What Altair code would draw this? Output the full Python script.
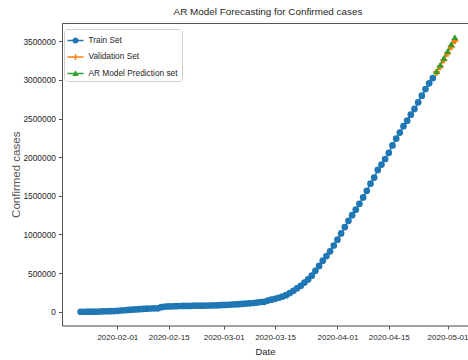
import altair as alt
import pandas as pd

series_names = ["Train Set", "Validation Set", "AR Model Prediction set"]
series_colors = ["#1f77b4", "#ff7f0e", "#2ca02c"]

train_dates = pd.date_range("2020-01-22", "2020-04-27", freq="D").strftime("%Y-%m-%d").tolist()
train_values = [
    555, 654, 941, 1434, 2118, 2927, 5578, 6166, 8234, 9927,
    12038, 16787, 19881, 23892, 27635, 30794, 34391, 37120, 40150, 42762,
    44802, 45221, 60368, 66885, 69030, 71224, 73258, 75136, 75639, 76197,
    76819, 78572, 78958, 79561, 80406, 81388, 82746, 84112, 86011,
    88369, 90306, 92840, 95120, 97886, 101801, 105847, 109821, 113590, 118620,
    125875, 128352, 145205, 156101, 167454, 181574, 197102, 214821, 242570, 272208,
    304507, 337020, 378287, 418041, 467653, 529591, 593291, 660693, 720140, 782389,
    857487,
    932605, 1013466, 1095917, 1176060, 1249754, 1321481, 1396476, 1479804, 1565278, 1657526,
    1735650, 1834721, 1904838, 1976191, 2056054, 2152437, 2240190, 2317759, 2401378, 2472259,
    2549123, 2624085, 2708885, 2795735, 2881140, 2955033, 3023722,
]

valid_dates = ["2020-04-28", "2020-04-29", "2020-04-30", "2020-05-01", "2020-05-02", "2020-05-03"]
valid_values = [3097229, 3172287, 3256910, 3343777, 3427343, 3506729]
pred_values = [3110000, 3195000, 3283000, 3372000, 3462000, 3552000]

y_ticks = [0, 500000, 1000000, 1500000, 2000000, 2500000, 3000000, 3500000]
x_ticks = ["2020-02-01", "2020-02-15", "2020-03-01", "2020-03-15", "2020-04-01", "2020-04-15", "2020-05-01"]

df = pd.concat([
    pd.DataFrame({"date": train_dates, "cases": train_values, "series": series_names[0]}),
    pd.DataFrame({"date": valid_dates, "cases": valid_values, "series": series_names[1]}),
    pd.DataFrame({"date": valid_dates, "cases": pred_values, "series": series_names[2]}),
], ignore_index=True)

FONT = "Liberation Sans, sans-serif"
TXT = "#262626"


def dt(s, h=0):
    y, m, d = (int(p) for p in s.split("-"))
    return alt.DateTime(year=y, month=m, date=d, hours=h, utc=True)


x_scale = alt.Scale(type="utc", domain=[dt("2020-01-16", 22), dt("2020-05-06", 14)])
y_scale = alt.Scale(domain=[-177300, 3735600], nice=False, zero=False)
color_scale = alt.Scale(domain=series_names, range=series_colors)

x_axis = alt.Axis(values=[dt(s) for s in x_ticks],
                  labelExpr="utcFormat(datum.value, '%Y-%m-%d')",
                  title="Date", grid=False, labelFont=FONT, labelFontSize=8.0,
                  labelColor=TXT, titleFont=FONT, titleFontSize=9.5, titleColor=TXT,
                  titleFontWeight="normal", tickSize=3.5, labelPadding=4.5, titlePadding=5,
                  domainColor="#555", tickColor="#555", labelFlush=False, labelOverlap=False)
y_axis = alt.Axis(values=y_ticks, format="d", title="Confirmed cases", grid=False,
                  labelFont=FONT, labelFontSize=8.4, labelColor=TXT,
                  titleFont=FONT, titleFontSize=11.5, titleColor="#555",
                  titleFontWeight="normal", tickSize=3.5, labelPadding=3, titlePadding=1.5,
                  domainColor="#555", tickColor="#555")
top_axis = alt.Axis(orient="top", labels=False, ticks=False, title=None, grid=False,
                    domainColor="#555")

base = alt.Chart(df)

lines = base.mark_line(strokeWidth=1.5, clip=True).encode(
    x=alt.X("date:T", scale=x_scale, axis=x_axis),
    y=alt.Y("cases:Q", scale=y_scale, axis=y_axis),
    color=alt.Color("series:N", scale=color_scale, legend=None),
)

points = base.mark_point(filled=True, opacity=1, size=45, clip=True).encode(
    x=alt.X("date:T", scale=x_scale, axis=None),
    y=alt.Y("cases:Q", scale=y_scale, axis=y_axis),
    color=alt.Color("series:N", scale=color_scale, legend=None),
    shape=alt.Shape("series:N", scale=alt.Scale(domain=series_names,
                    range=["circle", "cross", "triangle-up"]), legend=None),
)

legend_paths = [
    "M-1,-0.09H-0.36V0.09H-1Z M0.36,-0.09H1V0.09H0.36Z M-0.38,0A0.38,0.38 0 1,1 0.38,0A0.38,0.38 0 1,1 -0.38,0Z",
    "M-1,-0.09H1V0.09H-1Z M-0.09,-0.36H0.09V0.36H-0.09Z",
    "M-1,-0.09H1V0.09H-1Z M0,-0.42L0.4,0.32L-0.4,0.32Z",
]
leg = alt.Legend(title=None, orient="none", legendX=2, legendY=6, symbolSize=256,
                 symbolOpacity=1, symbolStrokeWidth=0, labelFont=FONT, labelFontSize=8.3,
                 labelColor=TXT, fillColor="white", strokeColor="#d0d0d0", cornerRadius=3,
                 padding=3.5, rowPadding=4.5, labelOffset=5)

legend_layer = base.mark_point(filled=True, opacity=0, size=38, clip=True).encode(
    x=alt.X("date:T", scale=x_scale, axis=top_axis),
    y=alt.Y("cases:Q", scale=y_scale, axis=y_axis),
    color=alt.Color("series:N", scale=color_scale, legend=leg),
    shape=alt.Shape("series:N", scale=alt.Scale(domain=series_names, range=legend_paths),
                    legend=leg),
)

chart = alt.layer(lines, points, legend_layer).resolve_scale(
    color="independent", shape="independent"
).resolve_axis(x="independent").properties(
    width=406, height=302.5,
    title=alt.TitleParams("AR Model Forecasting for Confirmed cases", font=FONT,
                          fontSize=9.9, fontWeight="normal", color=TXT, offset=6, dx=3),
    padding={"left": 62, "top": 23, "right": 0, "bottom": 34.5},
    autosize=alt.AutoSizeParams(type="none"),
).configure_view(stroke=None).configure(background="white")

chart.save("out.html", embed_options={"renderer": "svg", "actions": False})
